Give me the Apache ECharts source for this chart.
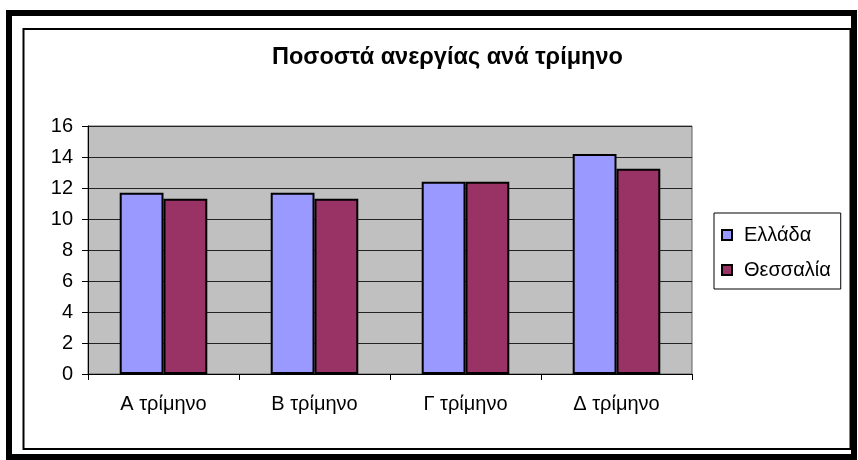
<!DOCTYPE html>
<html>
<head>
<meta charset="utf-8">
<script src="https://cdn.jsdelivr.net/npm/echarts@6/dist/echarts.min.js"></script>
<style>
  html, body { margin: 0; padding: 0; background: #fff; }
  #chart { width: 858px; height: 460px; }
</style>
</head>
<body>
<div id="chart"></div>
<script>
var quarters = ['Α τρίμηνο', 'Β τρίμηνο', 'Γ τρίμηνο', 'Δ τρίμηνο'];
var greece = [11.7, 11.7, 12.4, 14.2];
var thessaly = [11.3, 11.3, 12.4, 13.25];
var seriesNames = ['Ελλάδα', 'Θεσσαλία'];

var font = 'Liberation Sans, Arial, sans-serif';
var myChart = echarts.init(document.getElementById('chart'));

var option = {
    backgroundColor: '#fff',
    animation: false,
    title: {
        text: 'Ποσοστά ανεργίας ανά τρίμηνο',
        left: 272,
        top: 46,
        padding: 0,
        textStyle: { fontFamily: font, fontSize: 23.5, fontWeight: 'bold', color: '#000' }
    },
    // frame around the chart
    graphic: [
        { type: 'rect', shape: { x: 9, y: 13, width: 845, height: 444 },
          style: { fill: 'none', stroke: '#000', lineWidth: 6 }, silent: true },
        { type: 'rect', shape: { x: 23.5, y: 29, width: 827, height: 420 },
          style: { fill: 'none', stroke: '#000', lineWidth: 2 }, silent: true }
    ],
    legend: {
        orient: 'vertical',
        left: 714,
        top: 213,
        padding: [12, 10, 9, 7],
        itemWidth: 10,
        itemHeight: 10,
        itemGap: 15,
        borderColor: '#000',
        borderWidth: 1,
        icon: 'rect',
        formatter: function (name) { return '{t|' + name + '}'; },
        textStyle: {
            fontFamily: font, fontSize: 20, color: '#000',
            rich: { t: { fontFamily: font, fontSize: 20, color: '#000', padding: [0, 0, 0, 7] } }
        },
        data: seriesNames
    },
    grid: {
        left: 88, right: 166, top: 126, bottom: 86,
        show: true,
        backgroundColor: '#c0c0c0',
        borderColor: '#606060',
        borderWidth: 1
    },
    xAxis: {
        type: 'category',
        data: quarters,
        axisLine: { lineStyle: { color: '#000', width: 1 } },
        axisTick: { show: true, length: 6, lineStyle: { color: '#000' } },
        axisLabel: { margin: 20, fontFamily: font, fontSize: 20, color: '#000' }
    },
    yAxis: {
        type: 'value',
        min: 0, max: 16, interval: 2,
        axisLine: { show: true, lineStyle: { color: '#000', width: 1 } },
        axisTick: { show: true, length: 6, lineStyle: { color: '#000' } },
        axisLabel: { margin: 15, fontFamily: font, fontSize: 20, color: '#000' },
        splitLine: { lineStyle: { color: '#222', width: 1 } }
    },
    series: [
        {
            name: seriesNames[0], type: 'bar', data: greece,
            barGap: '0%', barCategoryGap: '42%',
            itemStyle: { color: '#9999ff', borderColor: '#000', borderWidth: 2 }
        },
        {
            name: seriesNames[1], type: 'bar', data: thessaly,
            barGap: '0%', barCategoryGap: '42%',
            itemStyle: { color: '#993366', borderColor: '#000', borderWidth: 2 }
        }
    ]
};

myChart.setOption(option);
</script>
</body>
</html>
